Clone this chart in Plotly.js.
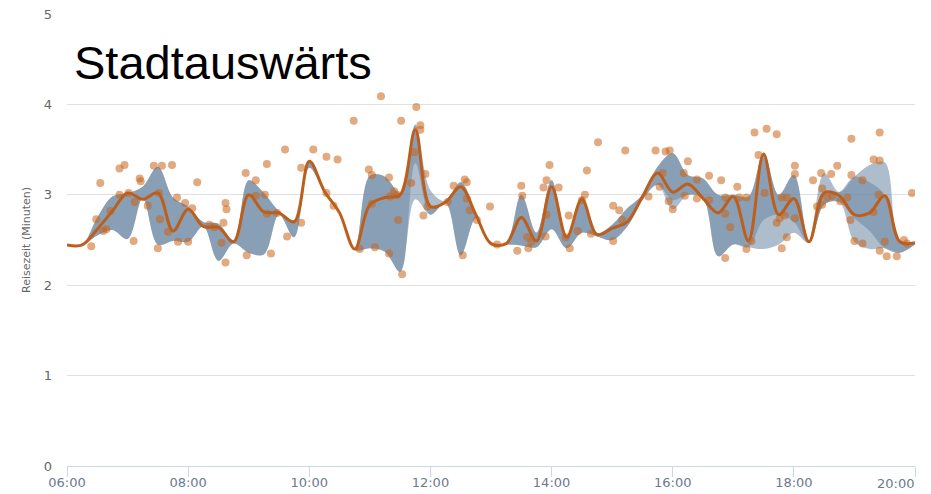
<!DOCTYPE html>
<html>
<head>
<meta charset="utf-8">
<script src="https://cdn.plot.ly/plotly-3.0.1.min.js"></script>
<style>html,body{margin:0;padding:0;background:#fff}#chart{width:931px;height:494px}</style>
</head>
<body>
<div id="chart"></div>
<script>
// 15-minute grid
const gridTimes = ["06:00","06:15","06:30","06:45","07:00","07:15","07:30","07:45","08:00","08:15","08:30","08:45",
  "09:00","09:15","09:30","09:45","10:00","10:15","10:30","10:45","11:00","11:15","11:30","11:45",
  "12:00","12:15","12:30","12:45","13:00","13:15","13:30","13:45","14:00","14:15","14:30","14:45",
  "15:00","15:15","15:30","15:45","16:00","16:15","16:30","16:45","17:00","17:15","17:30","17:45",
  "18:00","18:15","18:30","18:45","19:00","19:15","19:30","19:45","20:00"];

// smoothed travel time (line)
const lineValues = [2.445,2.445,2.62,2.82,3.02,2.95,3.02,2.60,2.84,2.65,2.64,2.48,
  3.00,2.81,2.80,2.70,3.37,3.04,2.80,2.40,2.89,2.97,3.00,3.72,
  2.87,2.92,3.09,2.78,2.46,2.46,2.75,2.49,3.09,2.53,2.95,2.56,
  2.63,2.70,2.98,3.24,3.03,3.12,2.96,2.80,2.98,2.49,3.45,2.78,
  2.96,2.48,3.02,2.99,2.78,2.80,2.99,2.48,2.47];

// range band A
const bandALow = [2.44,2.44,2.55,2.61,2.51,2.96,2.45,2.49,2.48,2.65,2.27,2.46,
  2.36,2.34,2.78,2.53,3.30,3.02,2.79,2.39,2.41,2.37,2.15,3.35,
  2.78,2.91,2.33,2.74,2.45,2.45,2.44,2.42,2.62,2.41,2.58,2.54,
  2.50,2.65,2.94,3.11,2.94,3.00,2.96,2.32,2.45,2.42,2.72,2.78,
  2.70,2.47,2.89,2.92,2.74,2.60,2.41,2.36,2.45];
const bandAHigh = [2.45,2.45,2.75,2.98,3.02,3.09,3.31,2.97,2.87,2.70,2.68,2.50,
  3.16,3.02,2.82,2.72,3.38,3.04,2.81,2.41,3.21,3.20,3.02,3.78,
  2.88,2.93,3.14,2.80,2.47,2.47,3.00,2.58,3.16,2.55,2.98,2.58,
  2.67,2.85,3.00,3.31,3.46,3.22,3.18,3.00,3.00,2.98,3.46,3.00,
  3.22,2.50,3.03,3.03,3.20,3.14,3.00,2.48,2.47];

// range band B
const bandBLow = [2.44,2.44,2.55,2.61,2.51,2.96,2.45,2.49,2.48,2.65,2.27,2.46,
  2.36,2.34,2.78,2.53,3.30,3.02,2.79,2.39,2.41,2.37,2.15,2.95,
  2.78,2.91,2.33,2.74,2.45,2.45,2.44,2.42,2.62,2.41,2.58,2.54,
  2.50,2.65,2.94,3.11,2.84,3.00,2.96,2.32,2.45,2.42,2.40,2.45,
  2.58,2.47,2.89,2.92,2.48,2.40,2.41,2.36,2.45];
const bandBHigh = [2.45,2.45,2.75,2.98,3.02,3.09,3.31,2.97,2.87,2.70,2.68,2.50,
  3.16,3.02,2.82,2.72,3.38,3.04,2.81,2.41,3.21,3.20,3.02,3.76,
  3.05,2.93,3.14,2.80,2.47,2.47,3.00,2.58,3.16,2.55,2.98,2.58,
  2.67,2.85,3.00,3.31,3.46,3.22,3.18,3.00,3.00,2.98,3.46,3.00,
  3.22,2.50,3.24,3.03,3.20,3.33,3.36,2.48,2.47];

// individual measurements
const pointTimes = ["06:24","06:29","06:33","06:36","06:39","06:43","06:52","06:57","06:52","07:01",
  "07:07","07:12","07:13","07:20","07:06","07:26","07:34","07:31","07:32","07:30",
  "07:40","07:44","07:49","07:50","07:57","08:00","08:04","08:09","08:21","08:26",
  "08:33","08:35","08:37","08:38","08:37","08:57","09:07","09:07","08:58","09:16",
  "09:18","09:18","09:22","09:28","09:38","09:36","09:52","10:04","10:17","10:28",
  "09:52","10:17","10:24","10:44","11:11","11:46","11:31","11:50","11:50","11:44",
  "10:59","11:02","11:19","11:24","11:20","11:27","11:02","10:50","11:05","11:19",
  "11:28","11:32","11:41","11:55","11:53","11:57","12:17","12:23","12:34","12:36",
  "12:36","12:39","12:46","12:32","12:59","13:06","13:26","13:30","13:31","13:36",
  "13:40","13:37","13:52","13:55","13:58","13:55","13:54","14:07","14:14","14:17",
  "14:18","14:26","14:30","14:33","14:35","14:39","14:46","15:01","15:07","15:01",
  "15:10","15:13","15:36","15:43","15:50","15:53","15:57","15:47","15:56","16:00",
  "16:11","16:15","16:12","16:24","16:24","16:36","16:36","16:48","16:52","16:52",
  "16:57","17:04","17:06","17:13","16:52","17:13","17:18","17:21","17:33","17:43",
  "17:25","17:31","17:43","17:46","17:48","17:53","17:48","17:53","17:51","18:01",
  "18:01","18:01","18:19","18:27","18:37","18:43","18:28","18:23","18:28","18:33",
  "18:38","18:46","18:53","18:57","18:57","18:56","19:00","19:08","19:08","19:19",
  "19:25","19:25","19:24","19:19","19:30","19:25","19:32","19:42","19:49","19:52",
  "19:57"];
const pointValues = [2.43,2.73,3.13,2.60,2.62,2.82,3.29,3.33,3.00,3.02,
  2.92,3.18,3.15,2.88,2.49,3.32,3.32,3.02,2.73,2.41,
  2.59,3.33,2.97,2.48,2.91,2.48,2.85,3.14,2.67,2.64,
  2.47,2.69,2.91,2.84,2.25,3.24,3.16,2.99,2.33,3.00,
  3.34,2.79,2.35,2.80,2.54,3.50,3.30,3.50,3.42,3.39,
  2.69,3.02,2.88,3.82,4.09,3.97,3.82,3.77,3.72,3.47,
  3.28,3.22,3.19,3.04,2.98,3.00,2.90,2.40,2.42,2.35,
  2.72,2.12,3.13,3.23,2.77,2.87,2.92,3.10,3.17,3.14,
  2.96,2.83,2.72,2.33,2.87,2.45,2.38,3.10,2.99,2.53,
  2.48,2.41,3.08,3.16,3.33,2.78,2.54,3.08,2.53,2.77,
  2.41,2.60,2.94,3.00,3.27,2.57,3.58,2.88,2.83,2.49,
  2.72,3.49,2.98,3.49,3.24,3.48,3.49,3.09,2.93,2.84,
  3.24,3.37,2.99,3.17,2.96,3.21,2.94,3.16,2.97,2.79,
  2.64,3.09,2.97,2.97,2.30,2.40,2.49,3.69,3.73,3.67,
  3.44,3.02,2.69,2.74,2.41,2.53,2.97,2.97,2.77,3.32,
  3.23,2.74,3.16,3.24,3.23,3.32,3.07,2.87,2.89,2.97,
  2.99,2.93,2.97,3.62,3.22,2.72,2.49,2.46,3.16,3.39,
  3.38,3.69,3.00,2.81,2.48,2.38,2.32,2.32,2.50,2.46,
  3.02];

const xTickVals = ["06:00","08:00","10:00","12:00","14:00","16:00","18:00","20:00"];
const yTickVals = [0,1,2,3,4,5];
const chartTitle = "Stadtauswärts";
const yTitle = "Reisezeit (Minuten)";

const day = "2024-01-01 ";
const toX = arr => arr.map(t => day + t);
const gx = toX(gridTimes);
const bandFill = "rgba(106,134,163,0.55)";
const lastTick = xTickVals[xTickVals.length - 1];

function bandTraces(low, high) {
  return [
    {x: gx, y: low, type: "scatter", mode: "lines", line: {width: 0, shape: "spline", smoothing: 1},
     hoverinfo: "skip", showlegend: false},
    {x: gx, y: high, type: "scatter", mode: "lines", fill: "tonexty", fillcolor: bandFill,
     line: {width: 0, shape: "spline", smoothing: 1}, hoverinfo: "skip", showlegend: false}
  ];
}

const traces = [
  ...bandTraces(bandALow, bandAHigh),
  ...bandTraces(bandBLow, bandBHigh),
  {x: toX(pointTimes), y: pointValues, type: "scatter", mode: "markers",
   marker: {size: 8, color: "rgba(200,100,25,0.55)", line: {width: 0}}, showlegend: false},
  {x: gx, y: lineValues, type: "scatter", mode: "lines",
   line: {color: "#bd5e1c", width: 3, shape: "spline", smoothing: 1}, showlegend: false}
];

const layout = {
  width: 931, height: 494,
  margin: {l: 67, r: 16, t: 14, b: 28},
  paper_bgcolor: "#fff", plot_bgcolor: "#fff",
  font: {family: "DejaVu Sans, sans-serif", size: 12, color: "#666"},
  showlegend: false,
  xaxis: {
    type: "date",
    range: [day + "06:00", day + "20:00"],
    tickvals: toX(xTickVals),
    ticktext: xTickVals.map(t => t === lastTick ? "" : t),
    showgrid: false, zeroline: false,
    showline: true, linecolor: "#ccd6eb", linewidth: 1,
    ticks: "outside", ticklen: 10, tickcolor: "#ccd6eb", tickwidth: 1,
    ticklabelstandoff: -6,
    tickfont: {size: 13, color: "#6b7a90"}
  },
  yaxis: {
    range: [0, 5], tickvals: yTickVals,
    showgrid: true, gridcolor: "#e0e0e0", gridwidth: 1,
    zeroline: false, showline: false, ticks: "",
    ticklabelstandoff: 14,
    tickfont: {size: 13, color: "#666"},
    title: {text: yTitle, font: {size: 11, color: "#666"}, standoff: 10}
  },
  annotations: [
    {
      text: chartTitle, xref: "paper", yref: "paper", x: 0.006, y: 0.893,
      xanchor: "left", yanchor: "middle", showarrow: false,
      font: {family: "Liberation Sans, Arial, sans-serif", size: 47, color: "#000"}
    },
    {
      text: lastTick, xref: "paper", yref: "paper", x: 1, y: 0,
      xanchor: "right", yanchor: "top", yshift: -8, xshift: 1, showarrow: false,
      font: {family: "DejaVu Sans, sans-serif", size: 13, color: "#6b7a90"}
    }
  ]
};

Plotly.newPlot("chart", traces, layout, {displayModeBar: false, staticPlot: true});
</script>
</body>
</html>
